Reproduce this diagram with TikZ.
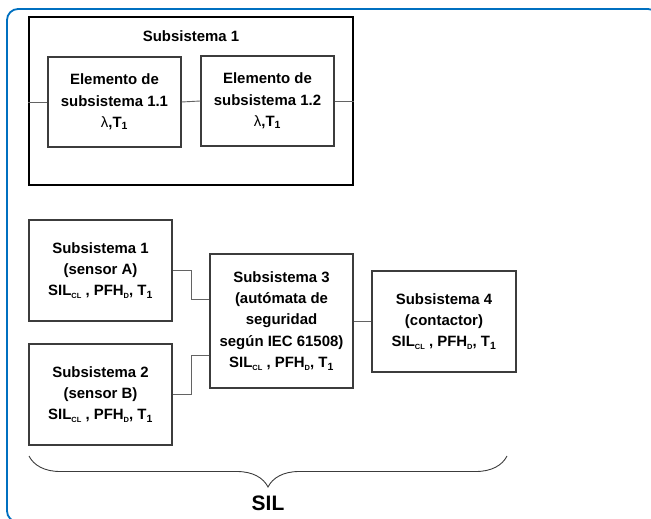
\documentclass[tikz,border=0pt]{standalone}
\usepackage{fontspec}
\setmainfont{Liberation Sans}
\usepackage{tikz}
\usetikzlibrary{arrows,calc,decorations.pathreplacing}

\definecolor{frameBlue}{RGB}{0,112,192}
\definecolor{lineGray}{RGB}{60,60,60}
\newcommand{\smallsub}[1]{\raisebox{-0.35ex}{\fontsize{7.5}{8}\selectfont #1}}
\newcommand{\silline}{SIL\smallsub{CL} , PFH\smallsub{D}, T\textsubscript{1}}

\begin{document}
\begin{tikzpicture}
[x=1bp,y=-1bp,
frame/.style={draw=frameBlue,line width=1.8bp,rounded corners=11bp},
box/.style={draw=lineGray,line width=1.2bp,inner sep=0pt,align=center,
  font=\fontsize{15}{21.5}\selectfont\bfseries},
bigBox/.style={draw=black,line width=1.3bp,inner sep=0pt},
title/.style={font=\fontsize{15}{18}\selectfont\bfseries},
edge/.style={draw=lineGray!80,line width=0.9bp},
brace/.style={draw=lineGray,line width=0.9bp,decorate,
  decoration={brace,mirror,amplitude=31bp}},
silLabel/.style={font=\fontsize{21}{24}\selectfont\bfseries},
]
\useasboundingbox (0,0) rectangle (651,519);
\draw[frame,] (7,9) rectangle (659,522);
% subsystem 1 made of two elements
\node[bigBox,minimum width=324bp,minimum height=168bp,] (big) at (191 , 101) {};
\node[title,] (bigTitle) at (191 , 36) {Subsistema 1};
\node[box,minimum width=133bp,minimum height=90bp,] (e11) at (114.5 , 102) {Elemento de\\subsistema 1.1\\{\mdseries λ},T\textsubscript{1}};
\node[box,minimum width=133bp,minimum height=90bp,] (e12) at (267.5 , 101) {Elemento de\\subsistema 1.2\\{\mdseries λ},T\textsubscript{1}};
\draw[edge,] (big.west |- e11.west) -- (e11.west) ;
\draw[edge,] (e11.east) -- (e12.west) ;
\draw[edge,] (e12.east) -- (big.east |- e12.east) ;
% safety function chain
\node[box,minimum width=143bp,minimum height=101bp,] (s1) at (100.5 , 270.5) {Subsistema 1\\(sensor A)\\\silline};
\node[box,minimum width=143bp,minimum height=101bp,] (s2) at (100.5 , 394.5) {Subsistema 2\\(sensor B)\\\silline};
\node[box,minimum width=143bp,minimum height=134bp,] (s3) at (281.5 , 321) {Subsistema 3\\(autómata de\\seguridad\\según IEC 61508)\\\silline};
\node[box,minimum width=144bp,minimum height=101bp,] (s4) at (444 , 321.5) {Subsistema 4\\(contactor)\\\silline};
\draw[edge,] (s1.east) -- ++(19,0) |- ([yshift=22bp]s3.west) ;
\draw[edge,] (s2.east) -- ++(19,0) |- ([yshift=-34bp]s3.west) ;
\draw[edge,] (s3.east) -- (s4.west |- s3.east) ;
% brace over the whole chain
\coordinate (braceL) at (29 , 456);
\coordinate (braceR) at (507 , 456);
\draw[brace,] (braceL) -- (braceR) ;
\node[silLabel,] (sil) at (268 , 503) {SIL};
\end{tikzpicture}
\end{document}
